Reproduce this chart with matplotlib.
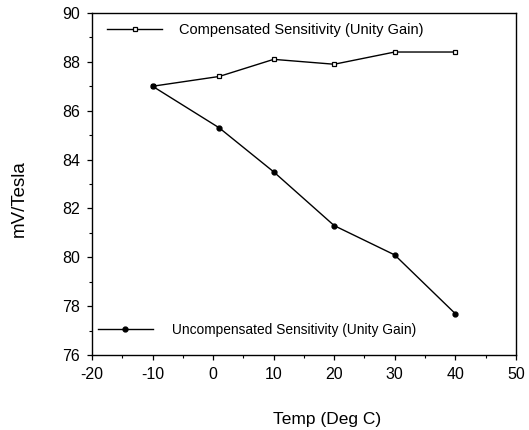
import matplotlib
matplotlib.use("Agg")
import matplotlib.pyplot as plt
from matplotlib.ticker import MultipleLocator

temp = [-10, 1, 10, 20, 30, 40]
compensated = [87.0, 87.4, 88.1, 87.9, 88.4, 88.4]
uncompensated = [87.0, 85.3, 83.5, 81.3, 80.1, 77.7]

plt.rcParams['font.family'] = ['Liberation Sans', 'DejaVu Sans']
plt.rcParams['axes.unicode_minus'] = False

fig = plt.figure(figsize=(5.29, 4.30), dpi=100)
ax = fig.add_axes([0.174, 0.174, 0.801, 0.796])

l1, = ax.plot(temp, compensated, color='black', lw=1.0, marker='s', ms=3.5,
              mfc='white', mec='black', mew=0.9,
              label='Compensated Sensitivity (Unity Gain)')
l2, = ax.plot(temp, uncompensated, color='black', lw=1.0, marker='o', ms=3.5,
              mfc='black', mec='black',
              label='Uncompensated Sensitivity (Unity Gain)')

ax.set_xlim(-20, 50)
ax.set_ylim(76, 90)
ax.xaxis.set_major_locator(MultipleLocator(10))
ax.xaxis.set_minor_locator(MultipleLocator(5))
ax.yaxis.set_major_locator(MultipleLocator(2))
ax.yaxis.set_minor_locator(MultipleLocator(1))
ax.tick_params(which='both', direction='out', top=False, right=False, labelsize=11.5)
ax.tick_params(which='major', length=3.5, width=0.9)
ax.tick_params(which='minor', length=2, width=0.8)
ax.tick_params(axis='x', which='major', pad=5)
ax.tick_params(axis='y', which='major', pad=5)
for s in ax.spines.values():
    s.set_linewidth(1.0)

ax.set_xlabel('Temp (Deg C)', fontsize=12.5)
ax.xaxis.set_label_coords(0.554, -0.165)
ax.set_ylabel('mV/Tesla', fontsize=13.5)
ax.yaxis.set_label_coords(-0.151, 0.459)

leg1 = ax.legend(handles=[l1], loc='center left', bbox_to_anchor=(0.035, 0.950),
                 frameon=False, fontsize=10.5, handlelength=3.8, handletextpad=1.15,
                 borderaxespad=0, borderpad=0)
ax.add_artist(leg1)
ax.legend(handles=[l2], loc='center left', bbox_to_anchor=(0.014, 0.073),
          frameon=False, fontsize=9.9, handlelength=4.0, handletextpad=1.35,
          borderaxespad=0, borderpad=0)

fig.savefig('out.png', dpi=100)
